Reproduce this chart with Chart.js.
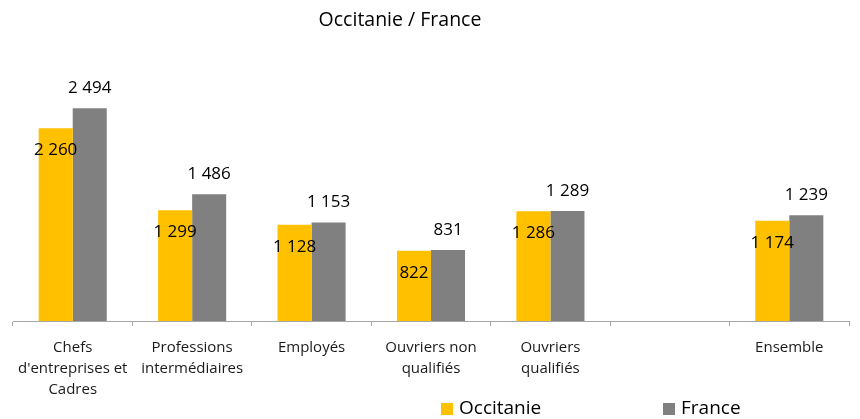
<!DOCTYPE html>
<html>
<head>
<meta charset="utf-8">
<script src="https://cdn.jsdelivr.net/npm/chart.js@4.4.0/dist/chart.umd.min.js"></script>
<style>
  html, body { margin: 0; padding: 0; background: #fff; }
  #wrap { width: 860px; height: 419px; }
</style>
</head>
<body>
<div id="wrap"><canvas id="c" width="860" height="419"></canvas></div>
<script>
const chartTitle = 'Occitanie / France';
const categories = [
  ['Chefs', "d'entreprises et", 'Cadres'],
  ['Professions', 'intermédiaires'],
  'Employés',
  ['Ouvriers non', 'qualifiés'],
  ['Ouvriers', 'qualifiés'],
  '',
  'Ensemble'
];
const seriesNames = ['Occitanie', 'France'];
const occitanie = [2260, 1299, 1128, 822, 1286, null, 1174];
const france = [2494, 1486, 1153, 831, 1289, null, 1239];
const seriesColors = ['#FFC000', '#808080'];

const FONT = "'Open Sans', 'Noto Sans', sans-serif";
const fmt = v => String(v).replace(/\B(?=(\d{3})+(?!\d))/g, ' ');

const decorPlugin = {
  id: 'decor',
  afterDatasetsDraw(chart) {
    const ctx = chart.ctx;
    ctx.save();
    ctx.font = '17px ' + FONT;
    ctx.fillStyle = '#000';
    ctx.textAlign = 'center';
    ctx.textBaseline = 'middle';
    chart.data.datasets.forEach((ds, di) => {
      const meta = chart.getDatasetMeta(di);
      meta.data.forEach((el, i) => {
        const v = ds.data[i];
        if (v === null || v === undefined) return;
        const y = di === 0 ? el.y + 22 : el.y - 20;
        ctx.fillText(fmt(v), el.x, y);
      });
    });
    // title
    ctx.font = '19.5px ' + FONT;
    ctx.fillText(chartTitle, 400, 20);
    // legend
    const legendPos = [441, 663];
    ctx.font = '19px ' + FONT;
    ctx.textAlign = 'left';
    chart.data.datasets.forEach((ds, di) => {
      const x = legendPos[di];
      ctx.fillStyle = ds.backgroundColor;
      ctx.fillRect(x, 403, 12, 12);
      ctx.fillStyle = '#000';
      ctx.fillText(ds.label, x + 18, 409);
    });
    ctx.restore();
  }
};

new Chart(document.getElementById('c'), {
  type: 'bar',
  data: {
    labels: categories,
    datasets: [
      { label: seriesNames[0], data: occitanie, backgroundColor: seriesColors[0] },
      { label: seriesNames[1], data: france, backgroundColor: seriesColors[1] }
    ]
  },
  options: {
    responsive: false,
    animation: false,
    devicePixelRatio: 1,
    layout: { padding: { left: 13, right: 11, top: 65, bottom: 8 } },
    datasets: { bar: { categoryPercentage: 0.57, barPercentage: 1.0 } },
    plugins: {
      legend: { display: false },
      title: { display: false },
      tooltip: { enabled: false }
    },
    scales: {
      y: { display: false, min: 0, max: 3000 },
      x: {
        offset: true,
        border: { display: true, color: '#a6a6a6', width: 1 },
        grid: { display: true, offset: true, drawOnChartArea: false, drawTicks: true, tickLength: 5, color: '#a6a6a6' },
        ticks: {
          color: '#1a1a1a',
          font: { family: FONT, size: 15, lineHeight: 1.4 },
          padding: 11,
          maxRotation: 0,
          autoSkip: false
        }
      }
    }
  },
  plugins: [decorPlugin]
});
</script>
</body>
</html>
